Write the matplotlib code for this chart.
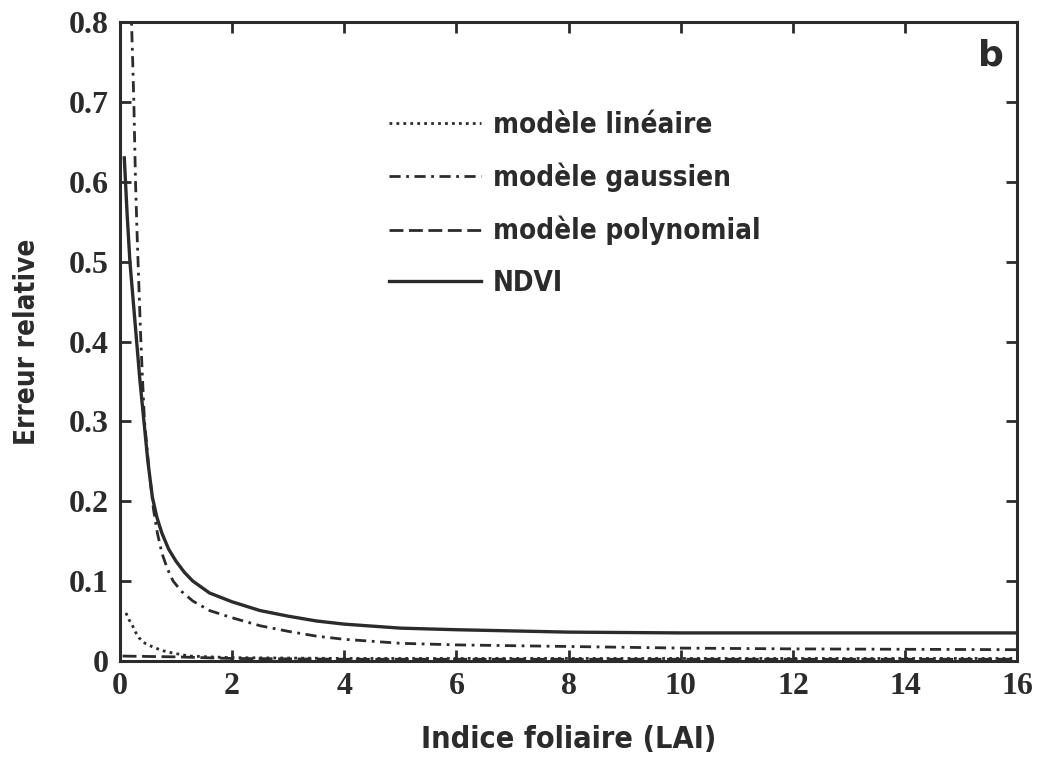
import matplotlib.pyplot as plt
import numpy as np

# values
lai_ndvi = [0.08, 0.13, 0.18, 0.24, 0.30, 0.36, 0.43, 0.50, 0.58, 0.66, 0.75, 0.87, 1.0, 1.15, 1.3, 1.6, 2.0, 2.5, 3.0, 3.5, 4.0, 5.0, 6.0, 8.0, 10.0, 12.0, 16.0]
err_ndvi = [0.63, 0.56, 0.50, 0.45, 0.40, 0.35, 0.30, 0.25, 0.205, 0.18, 0.16, 0.14, 0.125, 0.111, 0.100, 0.085, 0.074, 0.063, 0.056, 0.050, 0.046, 0.041, 0.039, 0.036, 0.035, 0.035, 0.035]

lai_gauss = [0.20, 0.23, 0.25, 0.28, 0.31, 0.34, 0.37, 0.40, 0.44, 0.52, 0.60, 0.67, 0.75, 0.85, 0.95, 1.1, 1.3, 1.6, 2.0, 2.5, 3.0, 3.5, 4.0, 5.0, 6.0, 8.0, 10.0, 12.0, 16.0]
err_gauss = [0.82, 0.75, 0.70, 0.60, 0.53, 0.47, 0.41, 0.36, 0.30, 0.24, 0.19, 0.16, 0.135, 0.115, 0.10, 0.087, 0.075, 0.063, 0.054, 0.044, 0.037, 0.031, 0.027, 0.022, 0.020, 0.018, 0.016, 0.015, 0.014]

lai_lin = [0.11, 0.16, 0.22, 0.28, 0.34, 0.45, 0.57, 0.75, 0.93, 1.24, 1.6, 2.0, 4.0, 8.0, 16.0]
err_lin = [0.060, 0.052, 0.045, 0.036, 0.029, 0.022, 0.018, 0.013, 0.010, 0.006, 0.005, 0.004, 0.003, 0.003, 0.003]

lai_poly = [0.05, 1.0, 2.0, 4.0, 8.0, 16.0]
err_poly = [0.006, 0.005, 0.003, 0.002, 0.002, 0.002]

xticks = [0, 2, 4, 6, 8, 10, 12, 14, 16]
yticks = [0, 0.1, 0.2, 0.3, 0.4, 0.5, 0.6, 0.7, 0.8]
ytick_labels = ['0', '0.1', '0.2', '0.3', '0.4', '0.5', '0.6', '0.7', '0.8']

ink = '#2b2b2b'
serif = ['Liberation Serif', 'DejaVu Serif']
cond = dict(family='DejaVu Sans', stretch='condensed', weight='bold')

fig = plt.figure(figsize=(10.51, 7.64), dpi=100)
ax = fig.add_axes([0.114, 0.135, 0.854, 0.836])

ax.plot(lai_lin, err_lin, color=ink, lw=2.0, ls=(0, (1, 1.5)), label='modèle linéaire')
ax.plot(lai_gauss, err_gauss, color=ink, lw=2.0, ls=(0, (4, 2, 1, 2)), label='modèle gaussien')
ax.plot(lai_poly, err_poly, color=ink, lw=2.0, ls=(0, (5, 2)), label='modèle polynomial')
ax.plot(lai_ndvi, err_ndvi, color=ink, lw=2.4, ls='-', label='NDVI')

ax.set_xlim(0, 16)
ax.set_ylim(0, 0.8)
ax.set_xticks(xticks)
ax.set_xticklabels([str(t) for t in xticks])
ax.set_yticks(yticks)
ax.set_yticklabels(ytick_labels)

for s in ax.spines.values():
    s.set_linewidth(2.2)
    s.set_color(ink)
ax.tick_params(direction='in', length=8, width=2, colors=ink, top=True, right=True,
               labelsize=23, pad=8)
for lab in ax.get_xticklabels() + ax.get_yticklabels():
    lab.set_family(serif)
    lab.set_fontweight('bold')

ax.set_xlabel('Indice foliaire (LAI)', fontsize=22, color=ink, labelpad=17, **cond)
ax.set_ylabel('Erreur relative', fontsize=20, color=ink, labelpad=20, **cond)

ax.text(0.985, 0.975, 'b', transform=ax.transAxes, ha='right', va='top',
        fontsize=26, fontweight='bold', family=['DejaVu Sans'], color=ink)

leg = ax.legend(loc='upper left', bbox_to_anchor=(0.272, 0.9), frameon=False,
                handlelength=3.3, handletextpad=0.45, labelspacing=0.85,
                prop=dict(size=20, **cond))
for t in leg.get_texts():
    t.set_color(ink)

fig.savefig('out.png', dpi=100)
